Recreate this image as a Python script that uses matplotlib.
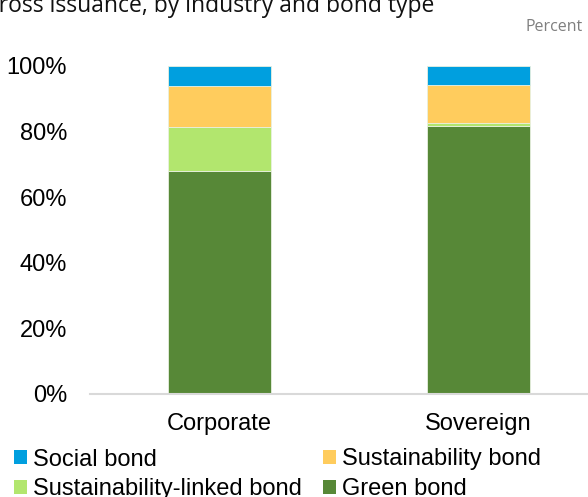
import matplotlib
matplotlib.use("Agg")
import matplotlib.pyplot as plt
from matplotlib.patches import Patch
import numpy as np

categories = ["Corporate", "Sovereign"]
series_names = ["Green bond", "Sustainability-linked bond", "Sustainability bond", "Social bond"]
green = [68.1, 81.8]
sust_linked = [13.4, 0.7]
sustainability = [12.4, 11.7]
social = [6.1, 5.8]
yticks = [0, 20, 40, 60, 80, 100]
ytick_labels = ["0%", "20%", "40%", "60%", "80%", "100%"]

colors = {
    "Green bond": "#578837",
    "Sustainability-linked bond": "#B2E66E",
    "Sustainability bond": "#FFCC5D",
    "Social bond": "#009FDF",
}

fig = plt.figure(figsize=(5.88, 4.97), dpi=100)
ax = fig.add_axes([90/588, 103/497, 518/588, 328/497])

x = np.arange(len(categories))
bottom = np.zeros(len(categories))
for name, vals in zip(series_names, [green, sust_linked, sustainability, social]):
    ax.bar(x, vals, width=0.4, bottom=bottom, color=colors[name],
           edgecolor="#E8F0E0", linewidth=0.6, label=name)
    bottom += np.array(vals)

ax.set_xlim(-0.5, 1.5)
ax.set_ylim(0, 100)
ax.set_yticks(yticks)
ax.set_yticklabels(ytick_labels, family="Liberation Sans", fontsize=17)
ax.set_xticks(x)
ax.set_xticklabels(categories, family="Liberation Sans", fontsize=17)
ax.tick_params(axis="both", length=0)
ax.tick_params(axis="y", pad=16.5)
ax.tick_params(axis="x", pad=13.5)
for s in ["top", "right", "left"]:
    ax.spines[s].set_visible(False)
ax.spines["bottom"].set_color("#D9D9D9")
ax.spines["bottom"].set_linewidth(1.5)

fig.text(-0.03, 1.0 + 0.012, "Gross issuance, by industry and bond type",
         family="Open Sans", fontsize=16.5, ha="left", va="top", color="#111111")
fig.text(583/588, 1 - 27/497, "Percent", family="Open Sans", fontsize=11.5,
         color="#7F7F7F", ha="right", va="center")

order = ["Social bond", "Sustainability-linked bond", "Sustainability bond", "Green bond"]
handles = [Patch(facecolor=colors[n], edgecolor="none") for n in order]
fig.legend(handles, order, ncol=2, loc="upper left",
           bbox_to_anchor=(14/588, 1 - 448.5/497), frameon=False,
           prop={"family": "Liberation Sans", "size": 17},
           handlelength=0.55, handleheight=0.55, handletextpad=0.25,
           columnspacing=0.9, labelspacing=0.32, borderpad=0, borderaxespad=0)

fig.savefig("out.png", dpi=100)
